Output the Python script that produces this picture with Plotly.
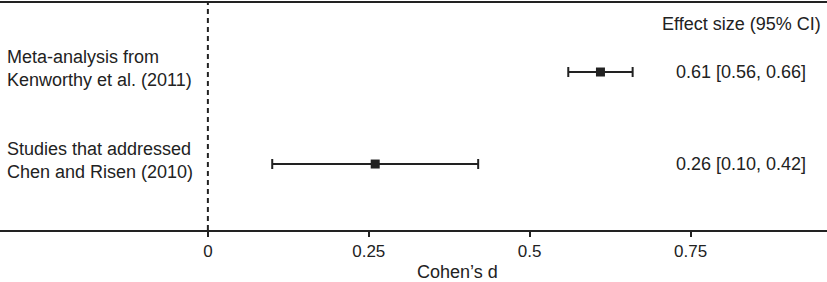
import plotly.graph_objects as go

studies = ["Meta-analysis from<br>Kenworthy et al. (2011)", "Studies that addressed<br>Chen and Risen (2010)"]
effect = [0.61, 0.26]
ci_low = [0.56, 0.10]
ci_high = [0.66, 0.42]
labels = ["0.61 [0.56, 0.66]", "0.26 [0.10, 0.42]"]
rows = [1, 0]
tick_vals = [0, 0.25, 0.5, 0.75]
tick_text = ["0", "0.25", "0.5", "0.75"]

ink = "#222222"
font = "Liberation Sans, Arial, sans-serif"

fig = go.Figure()
fig.add_trace(go.Scatter(
    x=effect, y=rows, mode="markers",
    marker=dict(symbol="square", size=9, color=ink),
    error_x=dict(type="data", symmetric=False,
                 array=[h - e for h, e in zip(ci_high, effect)],
                 arrayminus=[e - l for e, l in zip(effect, ci_low)],
                 color=ink, thickness=2, width=5),
    showlegend=False, hoverinfo="skip"))

fig.add_shape(type="line", xref="x", yref="paper", x0=0, x1=0, y0=0, y1=1,
              line=dict(color=ink, width=2, dash="5px,4px"))

for s, r in zip(studies, rows):
    fig.add_annotation(xref="paper", yref="y", x=0.0, xshift=5, y=r, yshift=4, text=s,
                       showarrow=False, xanchor="left", align="left",
                       font=dict(size=18, color=ink, family=font))
for t, r in zip(labels, rows):
    fig.add_annotation(xref="paper", yref="y", x=741/827, y=r, text=t, showarrow=False,
                       xanchor="center", font=dict(size=18, color=ink, family=font))
fig.add_annotation(xref="paper", yref="y", x=741/827, y=1.52, text="Effect size (95% CI)",
                   showarrow=False, xanchor="center", font=dict(size=18, color=ink, family=font))
fig.add_annotation(xref="paper", yref="paper", x=457/827, y=0, yshift=-42, text="Cohen’s d",
                   showarrow=False, xanchor="center", yanchor="middle",
                   font=dict(size=18, color=ink, family=font))

fig.update_layout(
    width=827, height=282, margin=dict(l=0, r=0, t=3, b=52),
    paper_bgcolor="white", plot_bgcolor="white",
    font=dict(family=font, color=ink, size=18),
    xaxis=dict(range=[-0.323, 0.962], tickvals=tick_vals, ticktext=tick_text,
               showgrid=False, zeroline=False, showline=True, mirror=True,
               linecolor=ink, linewidth=2, ticks="outside", ticklen=5, tickwidth=2,
               tickcolor=ink, tickfont=dict(size=17)),
    yaxis=dict(range=[-0.717, 1.75], visible=False, showgrid=False, zeroline=False),
)
fig.write_html("out.html", config={"displayModeBar": False},
               post_script="document.body.style.margin='0px';document.body.style.overflow='hidden';")
